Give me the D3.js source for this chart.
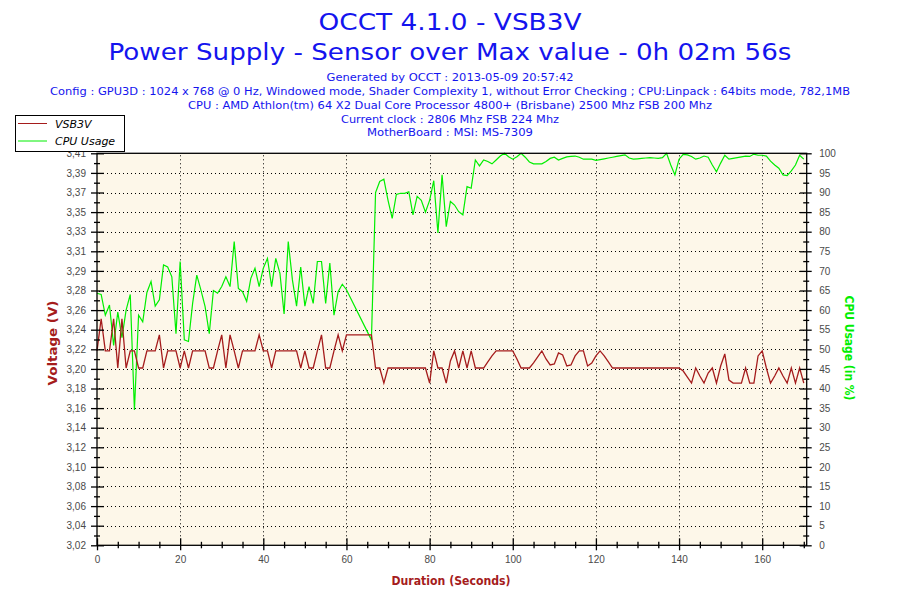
<!DOCTYPE html>
<html><head><meta charset="utf-8">
<script src="https://cdn.jsdelivr.net/npm/d3@7"></script>
<style>body{margin:0;background:#fff}svg{display:block}</style>
</head><body>
<svg id="c" width="900" height="600"></svg>
<script>
const titleLines = ["OCCT 4.1.0 - VSB3V", "Power Supply - Sensor over Max value - 0h 02m 56s"];
const infoLines = [
  "Generated by OCCT : 2013-05-09 20:57:42",
  "Config : GPU3D : 1024 x 768 @ 0 Hz, Windowed mode, Shader Complexity 1, without Error Checking ; CPU:Linpack : 64bits mode, 782,1MB",
  "CPU : AMD Athlon(tm) 64 X2 Dual Core Processor 4800+ (Brisbane) 2500 Mhz FSB 200 Mhz",
  "Current clock : 2806 Mhz FSB 224 Mhz",
  "MotherBoard : MSI: MS-7309"
];
const seriesNames = ["VSB3V", "CPU Usage"];
const axisTitles = ["Voltage (V)", "CPU Usage (in %)", "Duration (Seconds)"];

const seconds = [
  0,1,2,3,4,5,6,7,8,9,10,11,12,13,14,15,16,17,18,19,
  20,21,22,23,24,25,26,27,28,29,30,31,32,33,34,35,36,37,38,39,
  40,41,42,43,44,45,46,47,48,49,50,51,52,53,54,55,56,57,58,59,60,
  66,67,68,69,70,71,72,73,74,75,76,77,78,79,
  80,81,82,83,84,85,86,87,88,89,90,91,92,93,94,95,96,97,98,99,
  100,101,102,103,104,105,106,107,108,109,110,111,112,113,114,115,116,117,118,119,
  120,121,122,123,124,125,126,127,128,129,130,131,132,133,134,135,136,137,138,139,
  140,141,142,143,144,145,146,147,148,149,150,151,152,153,154,155,156,157,158,159,
  160,161,162,163,164,165,166,167,168,169,170
];
const voltage = [
  3.215,3.247,3.215,3.215,3.247,3.198,3.247,3.198,3.215,3.215,3.198,3.198,3.215,3.215,3.215,3.231,3.198,3.215,3.215,3.215,
  3.198,3.215,3.198,3.215,3.215,3.215,3.215,3.198,3.198,3.215,3.231,3.198,3.231,3.215,3.198,3.215,3.215,3.215,3.215,3.231,
  3.215,3.215,3.198,3.215,3.215,3.215,3.215,3.215,3.215,3.198,3.215,3.198,3.198,3.215,3.231,3.198,3.198,3.215,3.231,3.215,3.231,
  3.231,3.198,3.198,3.183,3.198,3.198,3.198,3.198,3.198,3.198,3.198,3.198,3.198,3.198,
  3.183,3.215,3.198,3.198,3.183,3.205,3.215,3.198,3.215,3.198,3.215,3.198,3.198,3.198,3.204,3.210,3.215,3.215,3.215,3.215,
  3.215,3.207,3.198,3.198,3.198,3.203,3.209,3.215,3.207,3.201,3.202,3.213,3.211,3.200,3.201,3.210,3.215,3.215,3.200,3.203,
  3.210,3.215,3.210,3.204,3.198,3.198,3.198,3.198,3.198,3.198,3.198,3.198,3.198,3.198,3.198,3.198,3.198,3.198,3.198,3.198,
  3.198,3.195,3.189,3.183,3.198,3.190,3.183,3.193,3.198,3.183,3.200,3.212,3.186,3.183,3.183,3.183,3.198,3.183,3.183,3.210,
  3.215,3.198,3.183,3.190,3.198,3.190,3.183,3.198,3.183,3.198,3.183
];
const cpuUsage = [
  64.3,64.0,58.7,61.3,51.0,59.5,53.0,60.0,64.0,34.5,58.7,57.0,64.5,67.3,61.0,62.6,71.5,71.0,68.5,54.0,
  72.4,52.4,52.0,61.7,68.9,65.1,60.9,54.0,65.0,64.3,66.0,68.5,66.0,77.5,65.5,64.7,62.2,68.1,70.7,66.0,
  70.7,73.2,66.0,73.2,69.4,59.0,77.5,67.7,61.0,71.0,61.0,66.0,61.7,72.4,72.4,61.7,72.0,58.7,64.7,66.6,65.2,
  52.4,90.0,92.8,93.4,88.0,83.4,89.5,89.8,89.8,90.2,84.3,89.0,88.0,85.0,
  88.0,93.0,79.7,94.5,81.3,87.7,86.8,85.1,84.3,91.5,91.1,98.3,96.8,98.3,97.9,97.3,98.3,99.3,100,99.1,
  98.5,99.1,100,99.0,97.8,97.3,97.3,97.3,97.9,98.7,99.0,98.3,98.7,99.1,99.2,99.3,99.0,98.5,98.5,98.5,
  98.2,98.4,98.6,98.8,99.0,99.2,99.4,99.6,98.8,98.5,98.6,98.7,98.8,98.9,98.8,98.7,98.9,100,97.0,94.5,
  98.5,99.7,99.6,99.2,98.5,98.8,99.3,99.0,97.0,95.3,97.5,99.5,98.5,98.7,98.9,99.1,99.3,99.2,99.8,99.5,
  99.5,99.3,98.0,97.0,96.2,94.5,94.3,95.5,97.0,99.5,98.5
];
const voltTickLabels = ["3,02","3,04","3,06","3,08","3,10","3,12","3,14","3,16","3,18","3,20","3,22",
  "3,24","3,26","3,28","3,29","3,31","3,33","3,35","3,37","3,39","3,41"];
const cpuTicks = [0,5,10,15,20,25,30,35,40,45,50,55,60,65,70,75,80,85,90,95,100];
const timeTicks = [0,20,40,60,80,100,120,140,160];
const timeMinorTicks = [5,10,15,25,30,35,45,50,55,65,70,75,85,90,95,105,110,115,125,130,135,145,150,155,165,170];
const voltDomain = [3.0216, 3.4116];
const timeDomain = [0, 170.7];

const colV = "#a51c1c", colC = "#00ee00", colBlue = "#1414ee", colTick = "#4a4a4a";
const L = 97, R = 806.7, T = 153.3, B = 545.3;
const svg = d3.select("#c");
const x = d3.scaleLinear().domain(timeDomain).range([L, R]);
const yV = d3.scaleLinear().domain(voltDomain).range([B, T]);
const yC = d3.scaleLinear().domain([0, 100]).range([B, T]);
const vStep = (voltDomain[1] - voltDomain[0]) / (voltTickLabels.length - 1);
const voltTickVals = voltTickLabels.map((_, i) => voltDomain[0] + i * vStep);
const voltMinorVals = voltTickLabels.slice(1).map((_, i) => voltDomain[0] + (i + 0.5) * vStep);
const cpuMinor = cpuTicks.slice(1).map(v => v - 2.5);

// titles
titleLines.forEach((t, i) => {
  svg.append("text").attr("x", 450).attr("y", i === 0 ? 29.5 : 60)
    .attr("text-anchor", "middle").attr("font-family", "DejaVu Sans").attr("font-size", 23)
    .attr("fill", colBlue).attr("textLength", i === 0 ? 263 : 683).attr("lengthAdjust", "spacingAndGlyphs").text(t);
});
const infoW = [247, 800, 524, 218, 166];
const infoY = [81, 95, 109, 122.5, 136];
infoLines.forEach((t, i) => {
  svg.append("text").attr("x", 450).attr("y", infoY[i]).attr("text-anchor", "middle")
    .attr("font-family", "DejaVu Sans").attr("font-size", 11).attr("fill", colBlue)
    .attr("textLength", infoW[i]).attr("lengthAdjust", "spacingAndGlyphs").text(t);
});

// plot background
svg.append("rect").attr("x", L).attr("y", T).attr("width", R - L).attr("height", B - T).attr("fill", "#fdf7e9");

// grid
const grid = svg.append("g").attr("stroke", "#000").attr("stroke-width", 1).attr("stroke-dasharray", "1,3");
cpuTicks.slice(1, -1).forEach(v => {
  const yy = Math.round(yC(v)) + 0.5;
  grid.append("line").attr("x1", L + 2).attr("x2", R).attr("y1", yy).attr("y2", yy);
});
timeTicks.slice(1).forEach(v => {
  const xx = Math.round(x(v)) + 0.5;
  grid.append("line").attr("x1", xx).attr("x2", xx).attr("y1", T + 2).attr("y2", B);
});

// lines
const lineV = d3.line().x((d, i) => x(seconds[i])).y(d => yV(d));
const lineC = d3.line().x((d, i) => x(seconds[i])).y(d => yC(d));
svg.append("path").datum(cpuUsage).attr("d", lineC).attr("fill", "none").attr("stroke", colC).attr("stroke-width", 1.2);
svg.append("path").datum(voltage).attr("d", lineV).attr("fill", "none").attr("stroke", colV).attr("stroke-width", 1.3);

// frame
svg.append("rect").attr("x", L).attr("y", T).attr("width", R - L).attr("height", B - T)
  .attr("fill", "none").attr("stroke", "#000").attr("stroke-width", 1.3);

function prep(g) { g.select(".domain").remove(); g.selectAll("line").attr("stroke", "#000").attr("stroke-width", 1.3); }

// left axis
const gL = svg.append("g").attr("transform", `translate(${L},0)`)
  .call(d3.axisLeft(yV).tickValues(voltTickVals).tickFormat((d, i) => voltTickLabels[i]));
prep(gL);
gL.selectAll(".tick line").attr("x1", 7).attr("x2", -6);
gL.selectAll(".tick text").attr("x", -11).attr("font-family", "Liberation Sans").attr("font-size", 10).attr("fill", colTick);
const gLm = svg.append("g").attr("transform", `translate(${L},0)`)
  .call(d3.axisLeft(yV).tickValues(voltMinorVals).tickFormat(""));
prep(gLm);
gLm.selectAll(".tick line").attr("x1", 3).attr("x2", -3);

// right axis
const gR = svg.append("g").attr("transform", `translate(${R},0)`)
  .call(d3.axisRight(yC).tickValues(cpuTicks).tickFormat(d3.format("d")));
prep(gR);
gR.selectAll(".tick line").attr("x1", -7).attr("x2", 5);
gR.selectAll(".tick text").attr("x", 12.5).attr("font-family", "Liberation Sans").attr("font-size", 10).attr("fill", colTick);
const gRm = svg.append("g").attr("transform", `translate(${R},0)`)
  .call(d3.axisRight(yC).tickValues(cpuMinor).tickFormat(""));
prep(gRm);
gRm.selectAll(".tick line").attr("x1", -3.5).attr("x2", 2.5);

// bottom axis
const gB = svg.append("g").attr("transform", `translate(0,${B})`)
  .call(d3.axisBottom(x).tickValues(timeTicks).tickFormat(d3.format("d")));
prep(gB);
gB.selectAll(".tick line").attr("y1", -7).attr("y2", 5);
gB.selectAll(".tick text").attr("y", 11).attr("font-family", "Liberation Sans").attr("font-size", 10).attr("fill", colTick);
const gBm = svg.append("g").attr("transform", `translate(0,${B})`)
  .call(d3.axisBottom(x).tickValues(timeMinorTicks).tickFormat(""));
prep(gBm);
gBm.selectAll(".tick line").attr("y1", -3.5).attr("y2", 3);

// axis titles
svg.append("text").attr("transform", "translate(52.5,343) rotate(-90)").attr("text-anchor", "middle")
  .attr("dominant-baseline", "central").attr("font-family", "DejaVu Sans").attr("font-weight", "bold")
  .attr("font-size", 12).attr("fill", colV).attr("textLength", 85).attr("lengthAdjust", "spacingAndGlyphs").text(axisTitles[0]);
svg.append("text").attr("transform", "translate(849,348) rotate(90)").attr("text-anchor", "middle")
  .attr("dominant-baseline", "central").attr("font-family", "DejaVu Sans").attr("font-weight", "bold")
  .attr("font-size", 12).attr("fill", colC).attr("textLength", 105).attr("lengthAdjust", "spacingAndGlyphs").text(axisTitles[1]);
svg.append("text").attr("x", 451).attr("y", 585).attr("text-anchor", "middle")
  .attr("font-family", "DejaVu Sans").attr("font-weight", "bold").attr("font-size", 12)
  .attr("fill", colV).attr("textLength", 119).attr("lengthAdjust", "spacingAndGlyphs").text(axisTitles[2]);

// legend
const lg = svg.append("g");
lg.append("rect").attr("x", 15.5).attr("y", 115.5).attr("width", 109).attr("height", 36)
  .attr("fill", "#fff").attr("stroke", "#000").attr("stroke-width", 1);
[colV, colC].forEach((c, i) => {
  const yy = 123.5 + i * 17.5;
  lg.append("line").attr("x1", 18).attr("x2", 47).attr("y1", yy).attr("y2", yy).attr("stroke", c).attr("stroke-width", 1);
  lg.append("text").attr("x", 55).attr("y", yy + 4).attr("font-family", "DejaVu Sans").attr("font-style", "italic")
    .attr("font-size", 11).attr("fill", "#000").text(seriesNames[i]);
});
</script>
</body></html>
